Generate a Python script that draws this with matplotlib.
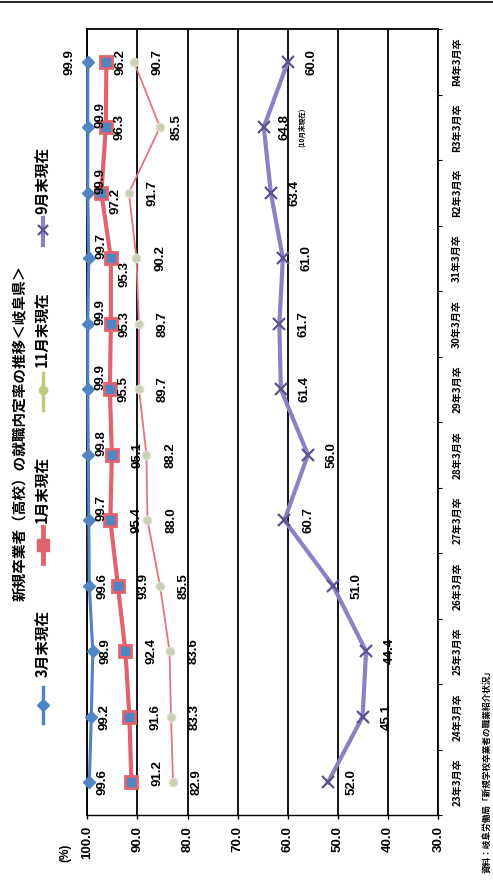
import numpy as np
import matplotlib
matplotlib.use('Agg')
import matplotlib.pyplot as plt
from matplotlib.lines import Line2D

plt.rcParams['font.family'] = ['Noto Sans CJK JP', 'DejaVu Sans']

# データ（岐阜県 新規高卒者の就職内定率）
categories = ['23年3月卒', '24年3月卒', '25年3月卒', '26年3月卒', '27年3月卒', '28年3月卒',
              '29年3月卒', '30年3月卒', '31年3月卒', 'R2年3月卒', 'R3年3月卒', 'R4年3月卒']
mar = [99.6, 99.2, 98.9, 99.6, 99.7, 99.8, 99.9, 99.9, 99.7, 99.9, 99.9, 99.9]
jan = [91.2, 91.6, 92.4, 93.9, 95.4, 95.1, 95.5, 95.3, 95.3, 97.2, 96.3, 96.2]
nov = [82.9, 83.3, 83.6, 85.5, 88.0, 88.2, 89.7, 89.7, 90.2, 91.7, 85.5, 90.7]
sep = [52.0, 45.1, 44.4, 51.0, 60.7, 56.0, 61.4, 61.7, 61.0, 63.4, 64.8, 60.0]
names = ['3月末現在', '1月末現在', '11月末現在', '9月末現在']
yticks = [100, 90, 80, 70, 60, 50, 40, 30]

c_blue = '#4f86c2'
c_red = '#e0636e'
c_nov = '#e37482'
c_green = '#bccb80'
c_purple = '#8a82c2'

fig = plt.figure(figsize=(4.93, 8.8), dpi=100)
ax = fig.add_axes([87.3/493, 1-815/880, (438.3-87.3)/493, (815-29)/880])

idx = np.arange(len(categories))

ax.plot(nov, idx, color=c_nov, lw=1.3, marker='o', ms=6, mfc='#c9cfb4', mec='#dde0d0', zorder=3)
ax.plot(jan, idx, color=c_red, lw=3.0, marker='s', ms=8.5, mfc=c_blue, mec=c_red, mew=2, zorder=4)
ax.plot(mar, idx, color=c_blue, lw=2.2, marker='D', ms=6.5, mfc=c_blue, mec=c_blue, zorder=5, clip_on=False)
ax.plot(sep, idx, color=c_purple, lw=3.0, marker='x', ms=8, mew=1.6, mec='#5a5290', zorder=4)

ax.set_xlim(100, 30)
ax.set_ylim(-0.5, len(categories) - 0.5)

# 目盛り・グリッド
ax.set_xticks(yticks)
ax.set_xticklabels(['{:.1f}'.format(v) for v in yticks], rotation=90, fontsize=9.5,
                   family='Liberation Sans', fontweight='bold')
ax.tick_params(axis='x', direction='out', length=3, width=1, pad=5, colors='black')
ax.yaxis.tick_right()
ax.set_yticks(idx)
ax.set_yticklabels(categories, rotation=90, fontsize=7.2, fontweight='bold', va='center')
ax.set_yticks(np.arange(-0.5, len(categories), 1), minor=True)
ax.tick_params(axis='y', which='major', length=0, pad=10)
ax.tick_params(axis='y', which='minor', length=3, width=0.8, direction='out')
for v in yticks:
    ax.axvline(v, color='black', lw=1.3, zorder=1)
for s in ax.spines.values():
    s.set_color('black')
    s.set_linewidth(1.3)
ax.spines['bottom'].set_linewidth(1.0)

k = 0.72  # px -> pt


def lab(x, y, dx, dy, txt, fs=9.5):
    ax.annotate(txt, (x, y), xytext=(dx*k, -dy*k), textcoords='offset points',
                ha='center', va='center', rotation=90, fontsize=fs,
                family='Liberation Sans', fontweight='bold', zorder=6)


for i, v in enumerate(mar):
    if i == len(mar) - 1:
        lab(v, i, -18, 0, '{:.1f}'.format(v))
    else:
        lab(v, i, 13, 0 if i < 4 else -12, '{:.1f}'.format(v))
for i, v in enumerate(jan):
    dy = {0: -9, 8: 16, 9: 8}.get(i, 0)
    lab(v, i, 26 if i <= 5 else 14, dy, '{:.1f}'.format(v))
for i, v in enumerate(nov):
    lab(v, i, 17 if i == 10 else 24, 0, '{:.1f}'.format(v))
for i, v in enumerate(sep):
    if i == 10:
        lab(v, i, 21, 0, '{:.1f}'.format(v))
        ax.annotate('(10月末現在)', (v, i), xytext=(38*k, 0), textcoords='offset points',
                    ha='center', va='center', rotation=90, fontsize=4.8, fontweight='bold')
    else:
        lab(v, i, 24, 0, '{:.1f}'.format(v))

# タイトル・単位・出典
fig.text(20/493, 1-433/880, '新規卒業者（高校）の就職内定率の推移＜岐阜県＞', rotation=90,
         ha='center', va='center', fontsize=10.5, fontweight='bold')
fig.text(65/493, 1-853/880, '(%)', rotation=90, ha='center', va='center', fontsize=8.5,
         family='Liberation Sans', fontweight='bold')
fig.text(487/493, 1-873/880, '資料：岐阜労働局「新規学校卒業者の職業紹介状況」', rotation=90,
         ha='center', va='bottom', fontsize=6.2, fontweight='bold')

# 凡例（手書き配置）
leg = [
    (names[0], 723, 687, 705, dict(color=c_blue, lw=2.5, marker='D', ms=6, mfc=c_blue, mec=c_blue), 677),
    (names[1], 563, 527, 545, dict(color=c_red, lw=3.5, marker='s', ms=8, mfc=c_red, mec=c_red), 523),
    (names[2], 410, 373, 390, dict(color=c_green, lw=2.5, marker='o', ms=6, mfc=c_green, mec=c_green), 367),
    (names[3], 245, 218, 230, dict(color=c_purple, lw=3, marker='x', ms=7, mew=1.6, mec='#5a5290'), 214),
]
lx = 43/493
for txt, y0, y1, ym, style, ty in leg:
    fig.add_artist(Line2D([lx, lx], [1-y0/880, 1-y1/880], color=style['color'], lw=style['lw']))
    st = dict(style)
    st['lw'] = 0
    fig.add_artist(Line2D([lx], [1-ym/880], **st))
    fig.text(lx, 1-ty/880, txt, rotation=90, ha='center', va='bottom', fontsize=10.5, fontweight='bold')

# 上端の罫線（原図の切れ端）
fig.add_artist(Line2D([0, 1], [1-2/880, 1-2/880], color='black', lw=1.2))

fig.savefig('out.png', dpi=100)
